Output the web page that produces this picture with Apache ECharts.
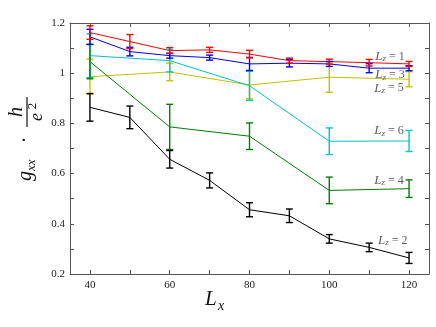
<!DOCTYPE html>
<html>
<head>
<meta charset="utf-8">
<script src="https://cdn.jsdelivr.net/npm/echarts@6/dist/echarts.min.js"></script>
<style>html,body{margin:0;padding:0;background:#fff}#c{width:436px;height:327px}</style>
</head>
<body>
<div id="c"></div>
<script>
// ---- data ----
var xFull = [40, 50, 60, 70, 80, 90, 100, 110, 120];
var xCoarse = [40, 60, 80, 100, 120];

var lz1Val = [1.162, 1.126, 1.090, 1.093, 1.076, 1.050, 1.046, 1.042, 1.037];
var lz1Err = [0.027, 0.028, 0.012, 0.010, 0.015, 0.010, 0.010, 0.013, 0.010];

var lz3Val = [1.145, 1.086, 1.070, 1.062, 1.037, 1.040, 1.037, 1.020, 1.020];
var lz3Err = [0.030, 0.017, 0.010, 0.010, 0.026, 0.015, 0.010, 0.018, 0.010];

var lz2Val = [0.864, 0.824, 0.657, 0.573, 0.456, 0.432, 0.340, 0.306, 0.264];
var lz2Err = [0.055, 0.045, 0.035, 0.030, 0.028, 0.027, 0.017, 0.017, 0.022];

var lz6Val = [1.070, 1.050, 0.950, 0.729, 0.730];
var lz6Err = [0.087, 0.045, 0.058, 0.053, 0.042];

var lz5Val = [0.986, 1.005, 0.953, 0.984, 0.976];
var lz5Err = [0.070, 0.035, 0.055, 0.060, 0.030];

var lz4Val = [1.046, 0.786, 0.749, 0.533, 0.540];
var lz4Err = [0.068, 0.090, 0.053, 0.053, 0.035];

var xTicks = [40, 50, 60, 70, 80, 90, 100, 110, 120];
var xTickLabels = [40, 60, 80, 100, 120];
var yTicks = [0.2, 0.3, 0.4, 0.5, 0.6, 0.7, 0.8, 0.9, 1.0, 1.1, 1.2];
var yTickLabels = [0.2, 0.4, 0.6, 0.8, 1.0, 1.2];

var labelNames = ['1', '3', '5', '6', '4', '2'];
var labelX = [115.2, 115.2, 115.0, 115.0, 115.0, 115.9];
var labelY = [1.066, 0.993, 0.940, 0.770, 0.573, 0.333];

// ---- build ----
var serif = '"Liberation Serif", "DejaVu Serif", serif';
function pairs(xs, ys) { return xs.map(function (x, i) { return [x, ys[i]]; }); }
function triples(xs, ys, es) { return xs.map(function (x, i) { return [x, ys[i], es[i]]; }); }

function errRender(params, api) {
  var x = api.value(0), y = api.value(1), e = api.value(2);
  var top = api.coord([x, y + e]);
  var bot = api.coord([x, y - e]);
  var hw = 3.5;
  var st = api.style({ stroke: api.visual('color'), fill: null, lineWidth: 1.4 });
  return {
    type: 'group',
    children: [
      { type: 'line', shape: { x1: top[0], y1: top[1], x2: bot[0], y2: bot[1] }, style: st },
      { type: 'line', shape: { x1: top[0] - hw, y1: top[1], x2: top[0] + hw, y2: top[1] }, style: st },
      { type: 'line', shape: { x1: bot[0] - hw, y1: bot[1], x2: bot[0] + hw, y2: bot[1] }, style: st }
    ]
  };
}

var defs = [
  { name: 'Lz=5', xs: xCoarse, v: lz5Val, e: lz5Err, c: '#c4c000' },
  { name: 'Lz=6', xs: xCoarse, v: lz6Val, e: lz6Err, c: '#00c4c8' },
  { name: 'Lz=4', xs: xCoarse, v: lz4Val, e: lz4Err, c: '#008000' },
  { name: 'Lz=2', xs: xFull, v: lz2Val, e: lz2Err, c: '#000000' },
  { name: 'Lz=3', xs: xFull, v: lz3Val, e: lz3Err, c: '#0000ff' },
  { name: 'Lz=1', xs: xFull, v: lz1Val, e: lz1Err, c: '#ff0000' }
];

var series = [];
defs.forEach(function (d) {
  series.push({
    type: 'line', name: d.name, data: pairs(d.xs, d.v), showSymbol: false, symbol: 'none',
    lineStyle: { color: d.c, width: 1 }, itemStyle: { color: d.c }, animation: false, z: 2
  });
  series.push({
    type: 'custom', name: d.name + ' err', data: triples(d.xs, d.v, d.e), renderItem: errRender,
    itemStyle: { color: d.c }, encode: { x: 0, y: 1 }, animation: false, z: 3
  });
});

series.push({
  type: 'scatter', symbolSize: 0, animation: false, silent: true, z: 5,
  data: labelNames.map(function (n, i) { return { value: [labelX[i], labelY[i]], name: n }; }),
  label: {
    show: true, position: 'inside',
    formatter: function (p) { return '{l|L}{s|z}{n| = ' + p.name + '}'; },
    rich: {
      l: { fontFamily: serif, fontStyle: 'italic', fontSize: 13, color: '#333', lineHeight: 14 },
      s: { fontFamily: serif, fontStyle: 'italic', fontSize: 9, color: '#333', verticalAlign: 'bottom', lineHeight: 10 },
      n: { fontFamily: serif, fontSize: 12, color: '#333', lineHeight: 14 }
    }
  }
});

var axisLineStyle = { color: '#555', width: 1 };

var option = {
  backgroundColor: '#fff',
  animation: false,
  grid: { left: 70, right: 7, top: 23, bottom: 53, containLabel: false },
  xAxis: [{
    type: 'value', min: 35, max: 125, position: 'bottom',
    axisLine: { show: true, lineStyle: axisLineStyle },
    axisTick: { show: true, inside: true, length: 4, customValues: xTicks, lineStyle: axisLineStyle },
    axisLabel: { customValues: xTickLabels, fontFamily: serif, fontSize: 11, color: '#222', margin: 6 },
    splitLine: { show: false }
  }, {
    type: 'value', min: 35, max: 125, position: 'top',
    axisLine: { show: true, lineStyle: axisLineStyle },
    axisTick: { show: true, inside: true, length: 4, customValues: xTicks, lineStyle: axisLineStyle },
    axisLabel: { show: false }, splitLine: { show: false }
  }],
  yAxis: [{
    type: 'value', min: 0.2, max: 1.2, position: 'left',
    axisLine: { show: true, lineStyle: axisLineStyle },
    axisTick: { show: true, inside: true, length: 4, customValues: yTicks, lineStyle: axisLineStyle },
    axisLabel: {
      customValues: yTickLabels, fontFamily: serif, fontSize: 11, color: '#222', margin: 5,
      formatter: function (v) { return String(Math.round(v * 10) / 10); }
    },
    splitLine: { show: false }
  }, {
    type: 'value', min: 0.2, max: 1.2, position: 'right',
    axisLine: { show: true, lineStyle: axisLineStyle },
    axisTick: { show: true, inside: true, length: 4, customValues: yTicks, lineStyle: axisLineStyle },
    axisLabel: { show: false }, splitLine: { show: false }
  }],
  series: series,
  graphic: [
    // x axis title L_x
    { type: 'text', left: 205, top: 289, style: { text: 'L', font: 'italic 21px ' + serif, fill: '#111' } },
    { type: 'text', left: 218, top: 299, style: { text: 'x', font: 'italic 14px ' + serif, fill: '#111' } },
    // y axis title  g_xx · h / e^2 (rotated)
    {
      type: 'group', x: 26, y: 137, rotation: Math.PI / 2,
      children: [
        { type: 'text', x: -44, y: 0, style: { text: 'g', font: 'italic 20px ' + serif, fill: '#111', verticalAlign: 'middle', align: 'left' } },
        { type: 'text', x: -34, y: 6, style: { text: 'xx', font: 'italic 13px ' + serif, fill: '#111', verticalAlign: 'middle', align: 'left' } },
        { type: 'text', x: -3, y: 0, style: { text: '\u00b7', font: '20px ' + serif, fill: '#111', verticalAlign: 'middle', align: 'center' } },
        { type: 'line', shape: { x1: 10, y1: 1, x2: 40, y2: 1 }, style: { stroke: '#111', lineWidth: 1.2 } },
        { type: 'text', x: 25, y: -9, style: { text: 'h', font: 'italic 20px ' + serif, fill: '#111', verticalAlign: 'middle', align: 'center' } },
        { type: 'text', x: 20, y: 11, style: { text: 'e', font: 'italic 18px ' + serif, fill: '#111', verticalAlign: 'middle', align: 'center' } },
        { type: 'text', x: 31, y: 7, style: { text: '2', font: '13px ' + serif, fill: '#111', verticalAlign: 'middle', align: 'center' } }
      ]
    }
  ]
};

var chart = echarts.init(document.getElementById('c'), null, { renderer: 'canvas' });
chart.setOption(option);
</script>
</body>
</html>
